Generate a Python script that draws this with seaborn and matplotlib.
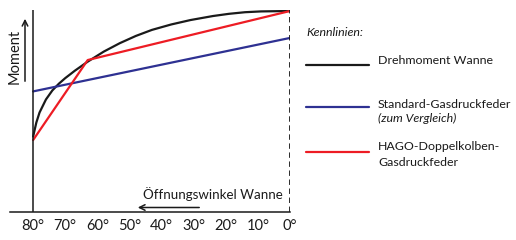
import pandas as pd
import matplotlib.pyplot as plt
import seaborn as sns
from matplotlib.lines import Line2D

# Kennlinien: Moment ueber Oeffnungswinkel der Wanne
winkel_wanne = [80, 79, 78, 76, 74, 72, 70, 67, 63, 58, 53, 48, 43, 37, 31, 24, 19, 14, 9, 0]
moment_wanne = [37.5, 44.5, 49.5, 56, 60.5, 63.8, 66.6, 70.3, 74.8, 79.8, 84, 87.6, 90.6, 93.3,
                95.5, 97.5, 98.6, 99.4, 99.8, 100]

winkel_standard = [80, 0]
moment_standard = [60, 86.6]

winkel_hago = [80, 63, 0]
moment_hago = [35.8, 75.6, 100]

namen = ['Drehmoment Wanne', 'Standard-Gasdruckfeder', 'HAGO-Doppelkolben-Gasdruckfeder']
farben = ['#1a1a1a', '#2e3192', '#ed1c24']
tick_winkel = [80, 70, 60, 50, 40, 30, 20, 10, 0]

df = pd.concat([
    pd.DataFrame({'Winkel': winkel_wanne, 'Moment': moment_wanne, 'Kennlinie': namen[0]}),
    pd.DataFrame({'Winkel': winkel_standard, 'Moment': moment_standard, 'Kennlinie': namen[1]}),
    pd.DataFrame({'Winkel': winkel_hago, 'Moment': moment_hago, 'Kennlinie': namen[2]}),
])

sns.set_style('white')
plt.rcParams['font.family'] = ['Lato', 'DejaVu Sans']

W, H = 516, 240
fig = plt.figure(figsize=(W / 100, H / 100), dpi=100)


def fx(px):
    return px / W


def fy(py):
    return 1 - py / H


ax = fig.add_axes([fx(10), fy(212), fx(290) - fx(10), fy(10) - fy(212)])

sns.lineplot(data=df, x='Winkel', y='Moment', hue='Kennlinie', palette=dict(zip(namen, farben)),
             estimator=None, legend=False, linewidth=1.6, ax=ax)

ax.set_xlim(87.2, 0)
ax.set_ylim(0, 100.5)
ax.axvline(80, color='#1a1a1a', lw=1.1)
ax.axvline(0, color='#1a1a1a', lw=1.3, ls=(0, (3, 2)))

for s in ['top', 'right', 'left']:
    ax.spines[s].set_visible(False)
ax.spines['bottom'].set_color('#1a1a1a')
ax.spines['bottom'].set_linewidth(1.1)
ax.set_xticks(tick_winkel)
ax.set_xticklabels([f'{w}°' for w in tick_winkel], fontsize=10.5, color='#1a1a1a')
ax.tick_params(axis='x', direction='in', length=3, width=1, color='#1a1a1a', pad=5)
ax.set_yticks([])
ax.set_xlabel('')
ax.set_ylabel('')

# Achsbeschriftungen mit Pfeilen
fig.text(fx(283), fy(194), 'Öffnungswinkel Wanne', ha='right', va='center', fontsize=9.6, color='#1a1a1a')
plt.annotate('', xy=(135, H - 207.5), xytext=(202, H - 207.5), xycoords='figure pixels',
             arrowprops=dict(arrowstyle='->', lw=1.1, color='#1a1a1a'))
fig.text(fx(15), fy(56), 'Moment', rotation=90, ha='center', va='center', fontsize=10.5, color='#1a1a1a')
plt.annotate('', xy=(25, H - 16), xytext=(25, H - 84), xycoords='figure pixels',
             arrowprops=dict(arrowstyle='->', lw=1.1, color='#1a1a1a'))

# Legende
fs = 8.9
fig.text(fx(306), fy(33), 'Kennlinien:', style='italic', ha='left', va='center', fontsize=fs, color='#1a1a1a')
legende_y = [65, 107, 152]
for farbe, y in zip(farben, legende_y):
    fig.add_artist(Line2D([fx(306), fx(369)], [fy(y), fy(y)], color=farbe, lw=1.6, transform=fig.transFigure))
fig.text(fx(378), fy(61), 'Drehmoment Wanne', ha='left', va='center', fontsize=fs, color='#1a1a1a')
fig.text(fx(378), fy(104), 'Standard-Gasdruckfeder', ha='left', va='center', fontsize=fs, color='#1a1a1a')
fig.text(fx(378), fy(118), '(zum Vergleich)', style='italic', ha='left', va='center', fontsize=fs, color='#1a1a1a')
fig.text(fx(378), fy(147), 'HAGO-Doppelkolben-', ha='left', va='center', fontsize=fs, color='#1a1a1a')
fig.text(fx(378), fy(162), 'Gasdruckfeder', ha='left', va='center', fontsize=fs, color='#1a1a1a')

fig.savefig('out.png', dpi=100)
